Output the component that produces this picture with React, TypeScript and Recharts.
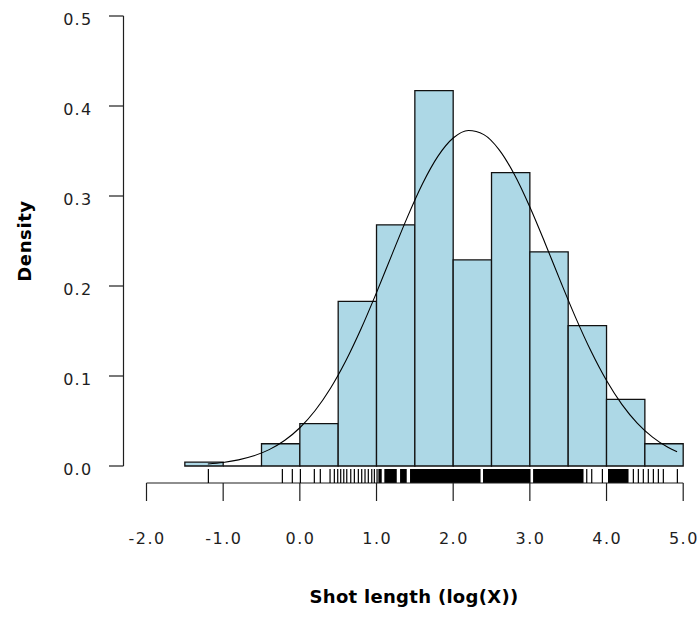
import React from 'react';
import { ComposedChart, XAxis, YAxis, Line, Scatter, ReferenceArea, ReferenceLine } from 'recharts';

// Histogram bins (log shot length), density per bin
const binStarts = [-1.5, -1.0, -0.5, 0.0, 0.5, 1.0, 1.5, 2.0, 2.5, 3.0, 3.5, 4.0, 4.5];
const binEnds = [-1.0, -0.5, 0.0, 0.5, 1.0, 1.5, 2.0, 2.5, 3.0, 3.5, 4.0, 4.5, 5.0];
const binDensity = [0.0042, 0, 0.0247, 0.047, 0.183, 0.268, 0.417, 0.229, 0.326, 0.238, 0.156, 0.074, 0.0247];

// Fitted density curve
const curveX = [-1.2, -1.0, -0.8, -0.6, -0.4, -0.2, 0.0, 0.2, 0.4, 0.6, 0.8, 1.0, 1.2, 1.4, 1.6, 1.8, 2.0, 2.2, 2.4, 2.6, 2.8, 3.0, 3.2, 3.4, 3.6, 3.8, 4.0, 4.2, 4.4, 4.6, 4.8, 4.92];
const curveY = [0.0022, 0.0039, 0.0068, 0.0113, 0.0182, 0.0283, 0.0425, 0.0617, 0.0864, 0.1169, 0.1527, 0.1926, 0.2346, 0.276, 0.3136, 0.344, 0.3644, 0.3728, 0.3682, 0.3513, 0.3236, 0.2878, 0.2473, 0.2051, 0.1643, 0.1271, 0.0949, 0.0685, 0.0477, 0.0321, 0.0208, 0.0158];

// Rug: isolated observations and densely packed stretches
const rugValues = [-1.193, -0.228, -0.098, 0.007, 0.189, 0.267, 0.394, 0.45, 0.494, 0.533, 0.573, 0.612, 0.664, 0.711, 0.763, 0.807, 0.85, 0.893, 0.938, 0.972, 1.007, 3.742, 3.807, 3.946, 4.35, 4.415, 4.48, 4.545, 4.611, 4.676, 4.741, 4.924];
const rugBlockStart = [1.024, 1.102, 1.307, 1.437, 2.389, 3.042, 4.019];
const rugBlockEnd = [1.068, 1.264, 1.394, 2.357, 3.009, 3.7, 4.287];

const xTicks = [-2, -1, 0, 1, 2, 3, 4, 5];
const yTicks = [0, 0.1, 0.2, 0.3, 0.4, 0.5];
const xLabel = 'Shot length (log(X))';
const yLabel = 'Density';

const FONT = '"DejaVu Sans", Verdana, sans-serif';
const INK = '#1e1e1e';

const curveData = curveX.map((x, i) => ({ x, y: curveY[i] }));
const rugData = rugValues.map((x) => ({ x, y: 0 }));

const YTick = (props: any) => {
  const { y, payload } = props;
  return (
    <g>
      <line x1={109} x2={123.5} y1={y} y2={y} stroke={INK} strokeWidth={1.2} />
      <text x={92.5} y={y + 9.4} textAnchor="end" fontFamily={FONT} fontSize={16} letterSpacing={1.3} fill={INK}>
        {Number(payload.value).toFixed(1)}
      </text>
    </g>
  );
};

const XTick = (props: any) => {
  const { x, payload } = props;
  return (
    <g>
      <line x1={x} x2={x} y1={483} y2={501} stroke={INK} strokeWidth={1.2} />
      <text x={x + 0.7} y={543.7} textAnchor="middle" fontFamily={FONT} fontSize={16} letterSpacing={1.5} fill={INK}>
        {Number(payload.value).toFixed(1)}
      </text>
    </g>
  );
};

const RugTick = (props: any) => {
  const { cx, cy } = props;
  return <line x1={cx} x2={cx} y1={cy + 3} y2={cy + 17} stroke="#000" strokeWidth={1.2} />;
};

export default function App() {
  return (
    <div style={{ position: 'absolute', left: 0, top: 0, background: '#fff' }}>
      <ComposedChart width={699} height={617} margin={{ top: 16, right: 15.8, left: 0, bottom: 0 }}>
        <XAxis
          type="number"
          dataKey="x"
          domain={[-2, 5]}
          ticks={xTicks}
          interval={0}
          axisLine={false}
          tickLine={false}
          height={151}
          tick={<XTick />}
          label={{
            content: () => (
              <text x={414} y={602.7} textAnchor="middle" fontFamily={FONT} fontSize={18} fontWeight="bold" letterSpacing={0.3} fill="#000">
                {xLabel}
              </text>
            ),
          }}
        />
        <YAxis
          type="number"
          dataKey="y"
          domain={[0, 0.5]}
          ticks={yTicks}
          interval={0}
          axisLine={false}
          tickLine={false}
          width={146.5}
          tick={<YTick />}
          label={{
            content: () => (
              <text x={30.7} y={241} transform="rotate(-90 30.7 241)" textAnchor="middle" fontFamily={FONT} fontSize={18} fontWeight="bold" letterSpacing={0.6} fill="#000">
                {yLabel}
              </text>
            ),
          }}
        />
        {binStarts.map((s, i) =>
          binDensity[i] > 0 ? (
            <ReferenceArea
              key={'bin' + i}
              x1={s}
              x2={binEnds[i]}
              y1={0}
              y2={binDensity[i]}
              fill="#ADD8E6"
              fillOpacity={1}
              stroke="#111"
              strokeWidth={1.3}
              ifOverflow="visible"
            />
          ) : (
            <ReferenceLine
              key={'bin' + i}
              segment={[{ x: s, y: 0 }, { x: binEnds[i], y: 0 }]}
              stroke="#111"
              strokeWidth={1.3}
              ifOverflow="visible"
            />
          )
        )}
        {rugBlockStart.map((s, i) => (
          <ReferenceArea
            key={'rug' + i}
            x1={s}
            x2={rugBlockEnd[i]}
            y1={-0.0033}
            y2={-0.0189}
            fill="#000"
            fillOpacity={1}
            stroke="none"
            ifOverflow="visible"
          />
        ))}
        <ReferenceLine
          segment={[{ x: -2.3, y: 0 }, { x: -2.3, y: 0.5 }]}
          stroke={INK}
          strokeWidth={1.2}
          ifOverflow="visible"
        />
        <ReferenceLine
          segment={[{ x: -2, y: -0.0189 }, { x: 5, y: -0.0189 }]}
          stroke={INK}
          strokeWidth={1.2}
          ifOverflow="visible"
        />
        <Scatter data={rugData} dataKey="y" shape={<RugTick />} isAnimationActive={false} />
        <Line
          data={curveData}
          dataKey="y"
          type="monotone"
          stroke="#000"
          strokeWidth={1.1}
          dot={false}
          activeDot={false}
          isAnimationActive={false}
        />
      </ComposedChart>
    </div>
  );
}
